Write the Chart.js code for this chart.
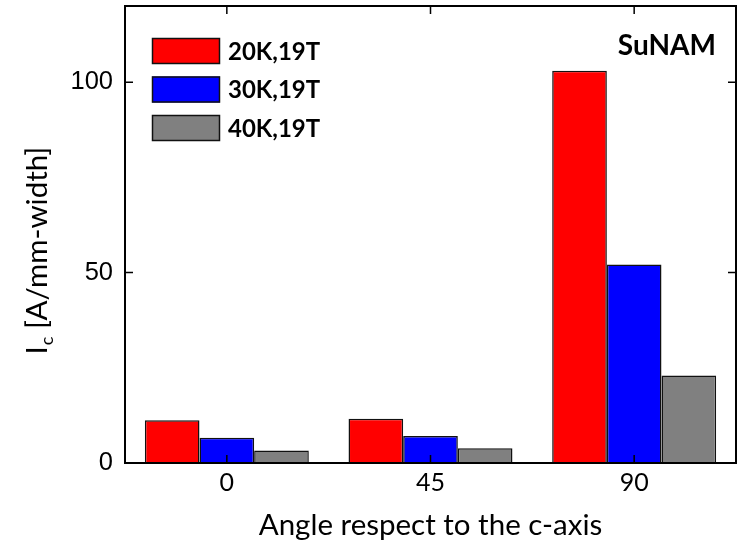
<!DOCTYPE html>
<html>
<head>
<meta charset="utf-8">
<script src="https://cdn.jsdelivr.net/npm/chart.js@4/dist/chart.umd.min.js"></script>
<style>
  html, body { margin: 0; padding: 0; background: #ffffff; }
  #wrap { width: 744px; height: 545px; }
</style>
</head>
<body>
<div id="wrap"><canvas id="chart" width="744" height="545"></canvas></div>
<script>
// Critical current per mm width of a SuNAM tape at 19 T, by field angle
const angles = ['0', '45', '90'];
const seriesLabels = ['20K,19T', '30K,19T', '40K,19T'];
const ic20K = [11.2, 11.6, 103.0];
const ic30K = [6.6, 7.1, 52.1];
const ic40K = [3.3, 3.9, 23.0];
const yTickValues = [0, 50, 100];
const sampleName = 'SuNAM';
const xTitle = 'Angle respect to the c-axis';

const colors = ['#ff0000', '#0000ff', '#808080'];
const sideFont = 'Lato, "Open Sans", sans-serif';

// Frame, inward tick marks, legend, sample name and the y-axis title
const decorations = {
  id: 'decorations',
  afterDatasetsDraw(chart) {
    const { ctx, chartArea: a, scales: { x, y } } = chart;
    ctx.save();
    ctx.strokeStyle = '#000';
    ctx.lineWidth = 2;
    ctx.strokeRect(a.left, a.top, a.right - a.left, a.bottom - a.top);

    const tl = 8;
    ctx.lineWidth = 1.5;
    ctx.beginPath();
    yTickValues.forEach(v => {
      const py = y.getPixelForValue(v);
      ctx.moveTo(a.left, py); ctx.lineTo(a.left + tl, py);
      if (v > 0) { ctx.moveTo(a.right, py); ctx.lineTo(a.right - tl, py); }
    });
    angles.forEach((_, i) => {
      const px = x.getPixelForValue(i);
      ctx.moveTo(px, a.bottom); ctx.lineTo(px, a.bottom - tl);
      ctx.moveTo(px, a.top); ctx.lineTo(px, a.top + tl);
    });
    ctx.stroke();

    // legend
    const boxX = 152, boxW = 68, boxH = 26, firstTop = 38, step = 38.5;
    ctx.font = 'bold 24px ' + sideFont;
    ctx.textBaseline = 'middle';
    ctx.textAlign = 'left';
    chart.data.datasets.forEach((ds, i) => {
      const top = firstTop + i * step;
      ctx.fillStyle = ds.backgroundColor;
      ctx.fillRect(boxX, top, boxW, boxH);
      ctx.lineWidth = 1.5;
      ctx.strokeStyle = '#111';
      ctx.strokeRect(boxX + 0.5, top + 0.5, boxW - 1, boxH - 1);
      ctx.fillStyle = '#000';
      ctx.fillText(ds.label, boxX + boxW + 8, top + boxH / 2 + 1);
    });

    // sample name
    ctx.font = 'bold 28px ' + sideFont;
    ctx.textAlign = 'right';
    ctx.textBaseline = 'alphabetic';
    ctx.fillText(sampleName, 716, 55);

    // y-axis title with subscript
    ctx.translate(47, 251);
    ctx.rotate(-Math.PI / 2);
    const mainFont = '29.5px ' + sideFont;
    const subFont = '18px ' + sideFont;
    const p1 = 'I', p2 = 'c', p3 = ' [A/mm-width]';
    ctx.font = mainFont; const w1 = ctx.measureText(p1).width; const w3 = ctx.measureText(p3).width;
    ctx.font = subFont; const w2 = ctx.measureText(p2).width;
    let cx = -(w1 + w2 + w3) / 2;
    ctx.textAlign = 'left';
    ctx.fillStyle = '#000';
    ctx.font = mainFont; ctx.fillText(p1, cx, 0); cx += w1 + 1;
    ctx.font = subFont; ctx.fillText(p2, cx, 6); cx += w2;
    ctx.font = mainFont; ctx.fillText(p3, cx, 0);
    ctx.restore();
  }
};

new Chart(document.getElementById('chart'), {
  type: 'bar',
  data: {
    labels: angles,
    datasets: [ic20K, ic30K, ic40K].map((values, i) => ({
      label: seriesLabels[i],
      data: values,
      backgroundColor: colors[i],
      borderColor: '#111',
      borderWidth: 1.5,
      barPercentage: 1,
      categoryPercentage: 0.805
    }))
  },
  options: {
    responsive: false,
    animation: false,
    devicePixelRatio: 1,
    layout: { padding: { left: 0, top: 6, right: 8, bottom: 0 } },
    plugins: { legend: { display: false }, tooltip: { enabled: false } },
    scales: {
      x: {
        grid: { display: false, drawTicks: false },
        border: { display: false },
        ticks: { color: '#000', font: { family: sideFont, size: 25 }, padding: 5 },
        title: { display: true, text: xTitle, color: '#000', font: { family: sideFont, size: 29.5 }, padding: { top: 0, bottom: 2 } },
        afterFit(scale) { scale.height = 82; scale.paddingLeft = 0; scale.paddingRight = 0; }
      },
      y: {
        min: 0,
        max: 120,
        grid: { display: false, drawTicks: false },
        border: { display: false },
        afterBuildTicks(scale) { scale.ticks = yTickValues.map(v => ({ value: v })); },
        ticks: { color: '#000', font: { family: '"Liberation Sans", Arial, sans-serif', size: 25.5 }, padding: 12 },
        afterFit(scale) { scale.width = 125; scale.paddingTop = 0; scale.paddingBottom = 0; }
      }
    }
  },
  plugins: [decorations]
});
</script>
</body>
</html>
